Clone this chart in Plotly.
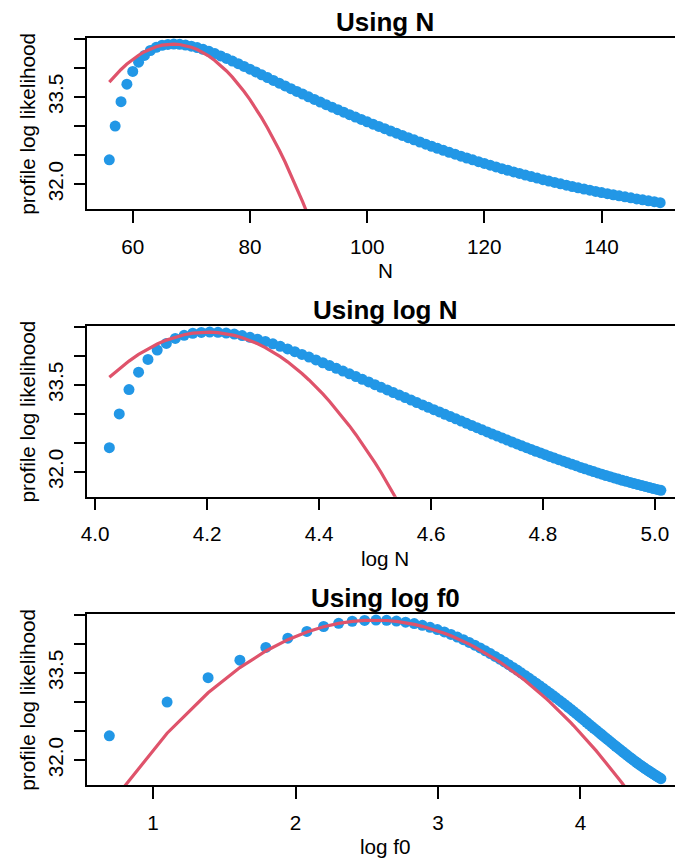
import numpy as np
import plotly.graph_objects as go

# Population sizes evaluated and the number of distinct individuals seen (f0 = N - n_seen)
N = list(range(56, 151))
n_seen = 54

# Profile log likelihood at each N (same values in every parametrisation)
profile_ll = [
    32.420, 33.000, 33.420, 33.720, 33.940, 34.100, 34.215, 34.300, 34.355, 34.390,
    34.405, 34.410, 34.406, 34.394, 34.375, 34.350, 34.320, 34.286, 34.248, 34.207,
    34.164, 34.119, 34.073, 34.026, 33.979, 33.931, 33.882, 33.834, 33.786, 33.739,
    33.691, 33.644, 33.597, 33.551, 33.504, 33.459, 33.414, 33.369, 33.325, 33.282,
    33.239, 33.197, 33.156, 33.115, 33.074, 33.034, 32.994, 32.955, 32.916, 32.878,
    32.839, 32.801, 32.764, 32.727, 32.690, 32.654, 32.619, 32.584, 32.550, 32.517,
    32.484, 32.452, 32.420, 32.389, 32.358, 32.328, 32.298, 32.269, 32.241, 32.213,
    32.186, 32.159, 32.133, 32.106, 32.080, 32.055, 32.031, 32.007, 31.984, 31.962,
    31.940, 31.919, 31.898, 31.878, 31.858, 31.839, 31.820, 31.802, 31.784, 31.767,
    31.749, 31.732, 31.716, 31.700, 31.684,
]

# Quadratic (normal) approximations, evaluated on the same grid starting at N = 56
quad_N = [
    33.755, 33.870, 33.974, 34.067, 34.149, 34.219, 34.279, 34.327, 34.364, 34.391,
    34.406, 34.410, 34.403, 34.385, 34.356, 34.316, 34.264, 34.202, 34.128, 34.044,
    33.948, 33.842, 33.724, 33.595, 33.455, 33.304, 33.142, 32.969, 32.784, 32.589,
    32.383, 32.165, 31.937, 31.697, 31.446, 31.184,
]
quad_logN = [
    33.632, 33.780, 33.911, 34.025, 34.123, 34.205, 34.272, 34.325, 34.365, 34.392,
    34.407, 34.410, 34.401, 34.383, 34.353, 34.314, 34.266, 34.209, 34.143, 34.069,
    33.987, 33.897, 33.800, 33.696, 33.585, 33.468, 33.345, 33.215, 33.080, 32.940,
    32.794, 32.643, 32.487, 32.327, 32.162, 31.992, 31.818, 31.641, 31.459, 31.274,
]
quad_logf0 = [
    31.226, 32.465, 33.160, 33.593, 33.879, 34.073, 34.206, 34.295, 34.353, 34.389,
    34.406, 34.410, 34.403, 34.387, 34.364, 34.336, 34.303, 34.266, 34.227, 34.184,
    34.140, 34.094, 34.046, 33.997, 33.947, 33.896, 33.845, 33.793, 33.741, 33.689,
    33.636, 33.583, 33.530, 33.477, 33.424, 33.371, 33.318, 33.265, 33.212, 33.160,
    33.108, 33.056, 33.004, 32.952, 32.901, 32.849, 32.798, 32.748, 32.697, 32.647,
    32.597, 32.547, 32.498, 32.449, 32.400, 32.352, 32.304, 32.256, 32.208, 32.161,
    32.114, 32.067, 32.020, 31.974, 31.928, 31.882, 31.837, 31.791, 31.746, 31.702,
    31.657, 31.613, 31.569, 31.526, 31.482,
]

titles = ["Using N", "Using log N", "Using log f0"]
x_labels = ["N", "log N", "log f0"]
y_label = "profile log likelihood"

x_ticks = [
    [60, 80, 100, 120, 140],
    [4.0, 4.2, 4.4, 4.6, 4.8, 5.0],
    [1, 2, 3, 4],
]
x_tick_text = [
    ["60", "80", "100", "120", "140"],
    ["4.0", "4.2", "4.4", "4.6", "4.8", "5.0"],
    ["1", "2", "3", "4"],
]
y_ticks = [32.0, 32.5, 33.0, 33.5, 34.0, 34.5]
y_tick_text = ["32.0", "", "", "33.5", "", ""]

# x values for each panel
N_arr = np.array(N, dtype=float)
x_values = [N_arr, np.log(N_arr), np.log(N_arr - n_seen)]
quads = [quad_N, quad_logN, quad_logf0]

# ---- page geometry (pixels) ----
W, H = 675, 859
PLOT_LEFT = 82
PANELS = [(37.7, 209.0), (325.7, 496.7), (613.7, 785.0)]  # (top, bottom)
X_RANGES = [(52.24, 152.53), (3.9859, 5.0359), (0.5383, 4.6634)]
Y_RANGE = (31.575, 34.52)
PLOT_CENTER_X = (PLOT_LEFT + 683) / 2.0

BLUE = "#2297E6"
RED = "#DF536B"
FONT = "Liberation Sans, Arial, Helvetica, sans-serif"
BASE = 20.7
TITLE_SIZE = 26
LW = 1.5

fig = go.Figure()
annotations = []

for i in range(3):
    sfx = "" if i == 0 else str(i + 1)
    top, bottom = PANELS[i]
    x = x_values[i]
    quad = quads[i]

    fig.add_trace(go.Scatter(
        x=x, y=profile_ll, mode="markers",
        marker=dict(color=BLUE, size=11, line=dict(width=0)),
        xaxis="x" + sfx, yaxis="y" + sfx,
        showlegend=False, hoverinfo="skip",
    ))
    fig.add_trace(go.Scatter(
        x=x[:len(quad)], y=quad, mode="lines",
        line=dict(color=RED, width=3.2),
        xaxis="x" + sfx, yaxis="y" + sfx,
        showlegend=False, hoverinfo="skip",
    ))

    common = dict(
        ticks="outside", ticklen=12, tickwidth=LW, tickcolor="black",
        showline=True, linecolor="black", linewidth=LW,
        showgrid=False, zeroline=False,
        tickfont=dict(family=FONT, size=BASE, color="black"),
    )
    fig.layout["xaxis" + sfx] = dict(
        domain=[PLOT_LEFT / W, 1.0], anchor="y" + sfx,
        range=list(X_RANGES[i]),
        tickmode="array", tickvals=x_ticks[i], ticktext=x_tick_text[i],
        mirror=True, ticklabelstandoff=6,
        **common,
    )
    fig.layout["yaxis" + sfx] = dict(
        domain=[1 - bottom / H, 1 - top / H], anchor="x" + sfx,
        range=list(Y_RANGE),
        tickmode="array", tickvals=y_ticks, ticktext=y_tick_text,
        tickangle=-90, ticklabelstandoff=2,
        **common,
    )

    # panel title (bold), centred over the plotting region
    annotations.append(dict(
        text="<b>" + titles[i] + "</b>", xref="paper", yref="paper",
        x=PLOT_CENTER_X / W, y=1 - (top - 7 - 0.3465 * TITLE_SIZE) / H,
        xanchor="center", yanchor="middle", showarrow=False,
        font=dict(family=FONT, size=TITLE_SIZE, color="black"),
    ))
    # x-axis label
    annotations.append(dict(
        text=x_labels[i], xref="paper", yref="paper",
        x=PLOT_CENTER_X / W, y=1 - (bottom + 68.5 - 0.3465 * BASE) / H,
        xanchor="center", yanchor="middle", showarrow=False,
        font=dict(family=FONT, size=BASE, color="black"),
    ))
    # y-axis label
    annotations.append(dict(
        text=y_label, xref="paper", yref="paper", textangle=-90,
        x=21.5 / W, y=1 - (top + bottom) / 2 / H,
        xanchor="center", yanchor="middle", showarrow=False,
        font=dict(family=FONT, size=BASE, color="black"),
    ))

fig.update_layout(
    width=W, height=H, autosize=False,
    margin=dict(l=0, r=0, t=0, b=0),
    paper_bgcolor="white", plot_bgcolor="white",
    annotations=annotations,
    showlegend=False,
)

fig.write_html("out.html", config={"displayModeBar": False})
